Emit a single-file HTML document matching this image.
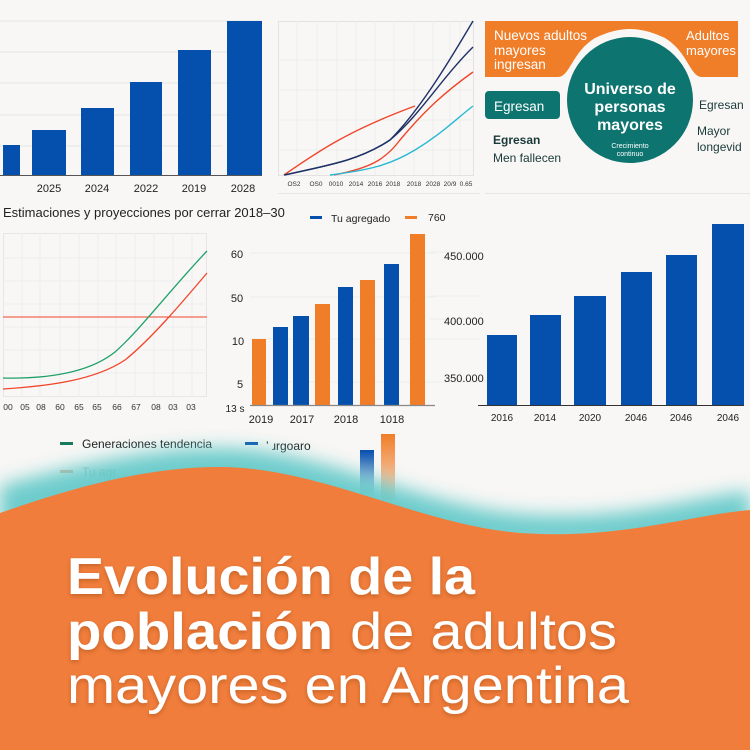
<!DOCTYPE html>
<html><head><meta charset="utf-8"><style>
html,body{margin:0;padding:0;background:#f8f7f5;}
svg{display:block;font-family:"Liberation Sans",sans-serif;}
</style></head><body>
<svg width="750" height="750" viewBox="0 0 750 750" xmlns="http://www.w3.org/2000/svg">
<defs>
<filter id="bl" x="-10%" y="-50%" width="120%" height="200%"><feGaussianBlur stdDeviation="9"/></filter>
<filter id="sh"><feDropShadow dx="0" dy="2" stdDeviation="2" flood-color="#7a3510" flood-opacity="0.35"/></filter>
<linearGradient id="fb" x1="0" y1="0" x2="0" y2="1"><stop offset="0" stop-color="#0650ad"/><stop offset="1" stop-color="#0650ad" stop-opacity="0"/></linearGradient>
<linearGradient id="fo" x1="0" y1="0" x2="0" y2="1"><stop offset="0" stop-color="#f07d28"/><stop offset="1" stop-color="#f07d28" stop-opacity="0.2"/></linearGradient>
</defs>
<rect width="750" height="750" fill="#f8f7f5"/>

<g stroke="#e6e6e6" stroke-width="1">
<line x1="0" y1="21" x2="262" y2="21"/><line x1="0" y1="52" x2="262" y2="52"/><line x1="0" y1="83" x2="262" y2="83"/><line x1="0" y1="115" x2="262" y2="115"/><line x1="0" y1="146" x2="222" y2="146"/>
</g>
<g fill="#0650ad">
<rect x="3" y="145" width="17" height="30"/><rect x="32" y="130" width="34" height="45"/><rect x="81" y="108" width="33" height="67"/><rect x="130" y="82" width="32" height="93"/><rect x="178" y="50" width="33" height="125"/><rect x="227" y="21" width="35" height="154"/>
</g>
<line x1="0" y1="175.5" x2="262" y2="175.5" stroke="#555" stroke-width="1"/>
<g font-size="11" fill="#222" text-anchor="middle">
<text x="49" y="192">2025</text><text x="97" y="192">2024</text><text x="146" y="192">2022</text><text x="194" y="192">2019</text><text x="243" y="192">2028</text>
</g>

<rect x="278.5" y="21.5" width="195" height="154" fill="none" stroke="#e2e2e2"/>
<g stroke="#ececec">
<line x1="297" y1="21" x2="297" y2="175"/><line x1="317" y1="21" x2="317" y2="175"/><line x1="337" y1="21" x2="337" y2="175"/><line x1="356" y1="21" x2="356" y2="175"/><line x1="375" y1="21" x2="375" y2="175"/><line x1="394" y1="21" x2="394" y2="175"/><line x1="414" y1="21" x2="414" y2="175"/><line x1="433" y1="21" x2="433" y2="175"/><line x1="450" y1="21" x2="450" y2="175"/><line x1="460" y1="21" x2="460" y2="175"/>
<line x1="278" y1="60" x2="473" y2="60"/><line x1="278" y1="90" x2="473" y2="90"/><line x1="278" y1="120" x2="473" y2="120"/><line x1="278" y1="150" x2="473" y2="150"/>
</g>
<g fill="none" stroke-width="1.4">
<path d="M284 175 C320 150 350 130 415 106" stroke="#f0452a"/>
<path d="M284 175 C330 165 360 160 390 140 C420 110 450 60 473 21" stroke="#1e3166"/>
<path d="M284 175 C330 165 360 160 390 140 C420 115 440 80 473 47" stroke="#1e3166"/>
<path d="M334 175 C370 168 385 160 400 140 C425 110 445 92 473 72" stroke="#f0452a"/>
<path d="M330 175 C370 170 390 165 415 150 C440 135 455 120 473 106" stroke="#27b8d3"/>
</g>
<line x1="278" y1="193.5" x2="480" y2="193.5" stroke="#e6e6e6"/>
<g font-size="6.5" fill="#333" text-anchor="middle">
<text x="294" y="186">OS2</text><text x="316" y="186">OS0</text><text x="336" y="186">0010</text><text x="356" y="186">2014</text><text x="375" y="186">2016</text><text x="393" y="186">2018</text><text x="414" y="186">2018</text><text x="433" y="186">2028</text><text x="450" y="186">20/9</text><text x="466" y="186">0.65</text>
</g>

<path d="M485 21 H738 V77 H702 C690 77 688 52 665 38 C640 26 620 26 595 38 C572 52 570 77 558 77 H485 Z" fill="#f07d28"/>
<circle cx="630" cy="100" r="63" fill="#0d7470"/>
<rect x="485" y="91" width="75" height="28" rx="4" fill="#0d7470"/>
<g font-size="13.5" fill="#fff">
<text x="494" y="40">Nuevos adultos</text><text x="494" y="55">mayores</text><text x="494" y="69">ingresan</text>
<text x="686" y="40" font-size="13">Adultos</text><text x="686" y="55" font-size="13">mayores</text>
<text x="494" y="111" font-size="13.5">Egresan</text>
</g>
<g font-size="16" fill="#fff" text-anchor="middle" font-weight="bold">
<text x="630" y="94">Universo de</text><text x="630" y="112">personas</text><text x="630" y="130">mayores</text>
</g>
<g font-size="7" fill="#fff" text-anchor="middle"><text x="630" y="148">Crecimiento</text><text x="630" y="156">continuo</text></g>
<g font-size="12" fill="#1a3a3a">
<text x="493" y="144" font-weight="bold">Egresan</text><text x="493" y="162">Men fallecen</text>
<text x="699" y="109">Egresan</text><text x="697" y="135">Mayor</text><text x="697" y="151">longevid</text>
</g>
<line x1="485" y1="193.5" x2="750" y2="193.5" stroke="#e6e6e6"/>

<text x="3" y="217" font-size="13" fill="#222">Estimaciones y proyecciones por cerrar 2018–30</text>
<rect x="310" y="216" width="12" height="3" fill="#0650ad"/><text x="331" y="222" font-size="10.5" fill="#222">Tu agregado</text>
<rect x="405" y="216" width="12" height="3" fill="#f07d28"/><text x="428" y="221" font-size="10.5" fill="#222">760</text>

<rect x="3.5" y="233.5" width="203" height="163" fill="none" stroke="#e6e6e6"/>
<g stroke="#eeeeee">
<line x1="22" y1="233" x2="22" y2="397"/><line x1="40" y1="233" x2="40" y2="397"/><line x1="60" y1="233" x2="60" y2="397"/><line x1="79" y1="233" x2="79" y2="397"/><line x1="98" y1="233" x2="98" y2="397"/><line x1="116" y1="233" x2="116" y2="397"/><line x1="135" y1="233" x2="135" y2="397"/><line x1="154" y1="233" x2="154" y2="397"/><line x1="173" y1="233" x2="173" y2="397"/><line x1="192" y1="233" x2="192" y2="397"/>
<line x1="3" y1="258" x2="207" y2="258"/><line x1="3" y1="281" x2="207" y2="281"/><line x1="3" y1="304" x2="207" y2="304"/><line x1="3" y1="327" x2="207" y2="327"/><line x1="3" y1="350" x2="207" y2="350"/><line x1="3" y1="373" x2="207" y2="373"/>
</g>
<line x1="3" y1="317" x2="207" y2="317" stroke="#f0452a" stroke-width="1"/>
<path d="M3 378 C50 379 90 372 115 352 C140 330 170 290 207 251" fill="none" stroke="#1fa06a" stroke-width="1.3"/>
<path d="M3 389 C50 386 95 380 125 360 C150 340 180 305 207 273" fill="none" stroke="#f0452a" stroke-width="1.3"/>
<g font-size="8.5" fill="#333" text-anchor="middle">
<text x="8" y="410">00</text><text x="25" y="410">05</text><text x="41" y="410">08</text><text x="60" y="410">60</text><text x="79" y="410">65</text><text x="97" y="410">65</text><text x="117" y="410">66</text><text x="136" y="410">67</text><text x="156" y="410">08</text><text x="173" y="410">03</text><text x="191" y="410">03</text>
</g>

<g stroke="#ececec"><line x1="250" y1="253" x2="435" y2="253"/><line x1="250" y1="297" x2="435" y2="297"/><line x1="250" y1="339" x2="435" y2="339"/><line x1="250" y1="382" x2="435" y2="382"/></g>
<g font-size="11" fill="#222" text-anchor="middle"><text x="237" y="258">60</text><text x="237" y="302">50</text><text x="238" y="345">10</text><text x="240" y="388">5</text><text x="235" y="412" font-size="10">13 s</text></g>
<g fill="#f07d28"><rect x="252" y="339" width="14" height="66"/><rect x="315" y="304" width="15" height="101"/><rect x="360" y="280" width="15" height="125"/><rect x="410" y="234" width="15" height="171"/></g>
<g fill="#0650ad"><rect x="273" y="327" width="15" height="78"/><rect x="293" y="316" width="16" height="89"/><rect x="338" y="287" width="15" height="118"/><rect x="384" y="264" width="15" height="141"/></g>
<line x1="250" y1="405.5" x2="435" y2="405.5" stroke="#888" stroke-width="1.2"/>
<g font-size="11" fill="#222" text-anchor="middle"><text x="261" y="423">2019</text><text x="302" y="423">2017</text><text x="346" y="423">2018</text><text x="392" y="423">1018</text></g>

<g stroke="#ececec"><line x1="430" y1="252" x2="480" y2="252"/><line x1="430" y1="296" x2="480" y2="296"/><line x1="430" y1="319" x2="480" y2="319"/><line x1="430" y1="339" x2="480" y2="339"/><line x1="430" y1="382" x2="480" y2="382"/></g>
<g font-size="11" fill="#222"><text x="444" y="260">450.000</text><text x="444" y="325">400.000</text><text x="444" y="382">350.000</text></g>
<g fill="#0650ad"><rect x="487" y="335" width="30" height="70"/><rect x="530" y="315" width="31" height="90"/><rect x="574" y="296" width="32" height="109"/><rect x="621" y="272" width="31" height="133"/><rect x="666" y="255" width="31" height="150"/><rect x="712" y="224" width="32" height="181"/></g>
<line x1="478" y1="405.5" x2="744" y2="405.5" stroke="#333" stroke-width="1"/>
<g font-size="10" fill="#222" text-anchor="middle"><text x="502" y="421">2016</text><text x="545" y="421">2014</text><text x="590" y="421">2020</text><text x="636" y="421">2046</text><text x="681" y="421">2046</text><text x="728" y="421">2046</text></g>

<rect x="60" y="442" width="13" height="3" fill="#1a7a5e"/><text x="82" y="448" font-size="12" fill="#222">Generaciones tendencia</text>
<rect x="245" y="442" width="13" height="3" fill="#0650ad"/><text x="266" y="450" font-size="12" fill="#222">ʼ ɹrgoaro</text>
<rect x="60" y="470" width="13" height="3" fill="#d99a70" opacity="0.7"/><text x="82" y="476" font-size="12" fill="#bbb">Tu agr</text>
<rect x="360" y="450" width="14" height="50" fill="url(#fb)"/><rect x="381" y="434" width="14" height="66" fill="url(#fo)"/>

<path d="M0 500 C80 478 150 462 220 462 C320 462 420 520 520 528 C620 536 690 512 750 505 L750 560 L0 560 Z" fill="#5fc8c8" filter="url(#bl)" opacity="0.9" transform="translate(0,-14)"/>
<path d="M0 513 C80 485 150 467 220 467 C320 467 420 525 520 533 C620 540 690 515 750 510 L750 750 L0 750 Z" fill="#f07d3b"/>

<g fill="#fff" font-size="52" filter="url(#sh)">
<text x="67" y="594" font-weight="bold" textLength="408" lengthAdjust="spacingAndGlyphs">Evolución de la</text>
<text x="67" y="649" font-weight="bold" textLength="266" lengthAdjust="spacingAndGlyphs">población</text>
<text x="350" y="649" textLength="267" lengthAdjust="spacingAndGlyphs">de adultos</text>
<text x="67" y="703" textLength="562" lengthAdjust="spacingAndGlyphs">mayores en Argentina</text>
</g>
</svg>
</body></html>
